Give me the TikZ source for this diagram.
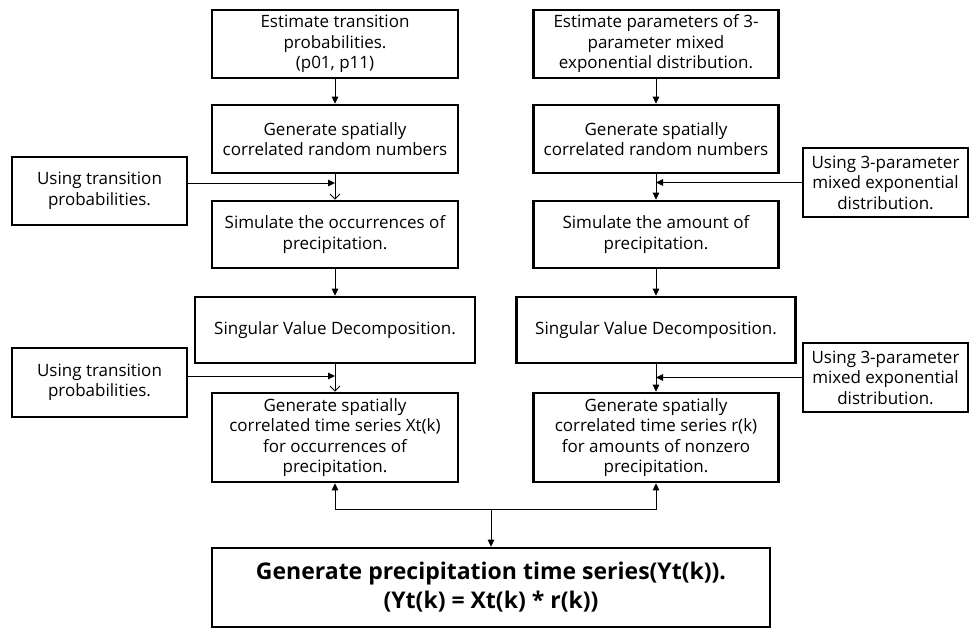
\documentclass[tikz,border=0pt]{standalone}
\usepackage{fontspec}
\setmainfont{Open Sans}
\usetikzlibrary{arrows.meta,calc}
\tikzset{
  box/.style={draw=black, line width=2.6pt, align=center, inner sep=2pt,
    font=\fontsize{17}{20.5}\selectfont},
  conn/.style={draw=black, line width=0.9pt},
  arr/.style={conn, -{Triangle[length=7pt,width=6.5pt]}},
  varr/.style={conn, -{Straight Barb[length=5pt,width=10pt,line width=0.9pt]}},
}
\begin{document}
\begin{tikzpicture}[x=1pt,y=-1pt]
\useasboundingbox (0,0) rectangle (970,628);
% left column
\node[box, minimum width=246pt, minimum height=68pt] (L1) at (335,44) {Estimate transition\\probabilities.\\(p01, p11)};
\node[box, minimum width=246pt, minimum height=68pt] (L2) at (335,139) {Generate spatially\\correlated random numbers};
\node[box, minimum width=246pt, minimum height=67pt] (L3) at (335,234.5) {Simulate the occurrences of\\precipitation.};
\node[box, minimum width=280pt, minimum height=66pt] (L4) at (335,330) {Singular Value Decomposition.};
\node[box, minimum width=246pt, minimum height=89pt] (L5) at (335,437.5) {Generate spatially\\correlated time series Xt(k)\\for occurrences of\\precipitation.};
% right column
\node[box, minimum width=245pt, minimum height=68pt] (R1) at (656,44) {Estimate parameters of 3-\\parameter mixed\\exponential distribution.};
\node[box, minimum width=245pt, minimum height=68pt] (R2) at (656,139) {Generate spatially\\correlated random numbers};
\node[box, minimum width=245pt, minimum height=67pt] (R3) at (656,234.5) {Simulate the amount of\\precipitation.};
\node[box, minimum width=279pt, minimum height=66pt] (R4) at (656,330) {Singular Value Decomposition.};
\node[box, minimum width=245pt, minimum height=89pt] (R5) at (656,437.5) {Generate spatially\\correlated time series r(k)\\for amounts of nonzero\\precipitation.};
% side boxes
\node[box, minimum width=175pt, minimum height=68pt] (LS1) at (99.5,191) {Using transition\\probabilities.};
\node[box, minimum width=175pt, minimum height=69pt] (LS2) at (99.5,382.5) {Using transition\\probabilities.};
\node[box, minimum width=165pt, minimum height=69pt] (RS1) at (885.5,182.5) {Using 3-parameter\\mixed exponential\\distribution.};
\node[box, minimum width=165pt, minimum height=69pt] (RS2) at (885.5,377.5) {Using 3-parameter\\mixed exponential\\distribution.};
% bottom box
\node[box, minimum width=558pt, minimum height=79pt, font=\fontsize{23}{29}\selectfont\bfseries] (B) at (491,587.5) {Generate precipitation time series(Yt(k)).\\(Yt(k) = Xt(k) * r(k))};
% coordinates
\coordinate (m1) at (335,183);
\coordinate (m2) at (656,182.5);
\coordinate (m3) at (335,376);
\coordinate (m4) at (656,377.5);
\coordinate (J) at (491,509);
% vertical arrows
\draw[arr] (L1) -- (L2);
\draw[varr] (L2) -- (L3);
\draw[arr] (L3) -- (L4);
\draw[varr] (L4) -- (L5);
\draw[arr] (R1) -- (R2);
\draw[arr] (R2) -- (R3);
\draw[arr] (R3) -- (R4);
\draw[arr] (R4) -- (R5);
% side arrows
\draw[arr] (LS1.east |- m1) -- (m1);
\draw[arr] (LS2.east |- m3) -- (m3);
\draw[arr] (RS1.west |- m2) -- (m2);
\draw[arr] (RS2.west |- m4) -- (m4);
% bottom join
\draw[arr] (J) -| (L5.south);
\draw[arr] (J) -| (R5.south);
\draw[arr] (J) -- (B.north);
\end{tikzpicture}
\end{document}
